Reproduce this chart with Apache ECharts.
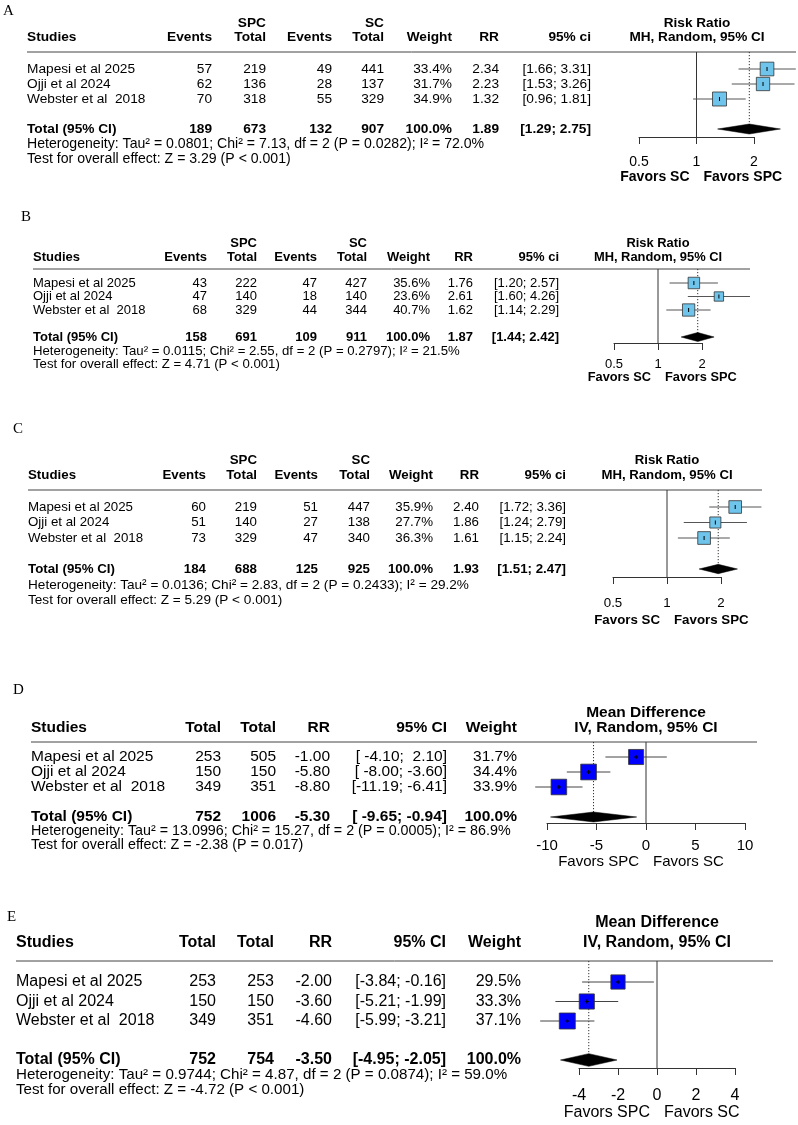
<!DOCTYPE html>
<html><head><meta charset="utf-8">
<script src="https://cdn.jsdelivr.net/npm/echarts@6/dist/echarts.min.js"></script>
<style>html,body{margin:0;padding:0;background:#fff}#c{width:798px;height:1125px}</style>
</head><body><div id="c"></div>
<script>
const FONT = "'Liberation Sans', Arial, Helvetica, sans-serif";
const SERIF = "'Liberation Serif', 'Times New Roman', serif";

const studies = ['Mapesi et al 2025', 'Ojji et al 2024', 'Webster et al  2018'];

// ---- Panel A (Risk Ratio) ----
const aSpcEvents = [57, 62, 70];
const aSpcTotal = [219, 136, 318];
const aScEvents = [49, 28, 55];
const aScTotal = [441, 137, 329];
const aWeight = [33.4, 31.7, 34.9];
const aRR = [2.34, 2.23, 1.32];
const aLow = [1.66, 1.53, 0.96];
const aHigh = [3.31, 3.26, 1.81];
const aPooled = [1.89, 1.29, 2.75];
const aTotals = [189, 673, 132, 907];
const aHet = ['0.0801', '7.13', '2', '0.0282', '72.0%'];
const aTest = ['3.29', '< 0.001'];
const aTicks = [0.5, 1, 2];

// ---- Panel B ----
const bSpcEvents = [43, 47, 68];
const bSpcTotal = [222, 140, 329];
const bScEvents = [47, 18, 44];
const bScTotal = [427, 140, 344];
const bWeight = [35.6, 23.6, 40.7];
const bRR = [1.76, 2.61, 1.62];
const bLow = [1.20, 1.60, 1.14];
const bHigh = [2.57, 4.26, 2.29];
const bPooled = [1.87, 1.44, 2.42];
const bTotals = [158, 691, 109, 911];
const bHet = ['0.0115', '2.55', '2', '0.2797', '21.5%'];
const bTest = ['4.71', '< 0.001'];
const bTicks = [0.5, 1, 2];

// ---- Panel C ----
const cSpcEvents = [60, 51, 73];
const cSpcTotal = [219, 140, 329];
const cScEvents = [51, 27, 47];
const cScTotal = [447, 138, 340];
const cWeight = [35.9, 27.7, 36.3];
const cRR = [2.40, 1.86, 1.61];
const cLow = [1.72, 1.24, 1.15];
const cHigh = [3.36, 2.79, 2.24];
const cPooled = [1.93, 1.51, 2.47];
const cTotals = [184, 688, 125, 925];
const cHet = ['0.0136', '2.83', '2', '0.2433', '29.2%'];
const cTest = ['5.29', '< 0.001'];
const cTicks = [0.5, 1, 2];

// ---- Panel D (Mean Difference) ----
const dTotal1 = [253, 150, 349];
const dTotal2 = [505, 150, 351];
const dMD = [-1.00, -5.80, -8.80];
const dLow = [-4.10, -8.00, -11.19];
const dHigh = [2.10, -3.60, -6.41];
const dWeight = [31.7, 34.4, 33.9];
const dPooled = [-5.30, -9.65, -0.94];
const dTotals = [752, 1006];
const dHet = ['13.0996', '15.27', '2', '0.0005', '86.9%'];
const dTest = ['-2.38', '= 0.017'];
const dTicks = [-10, -5, 0, 5, 10];

// ---- Panel E ----
const eTotal1 = [253, 150, 349];
const eTotal2 = [253, 150, 351];
const eMD = [-2.00, -3.60, -4.60];
const eLow = [-3.84, -5.21, -5.99];
const eHigh = [-0.16, -1.99, -3.21];
const eWeight = [29.5, 33.3, 37.1];
const ePooled = [-3.50, -4.95, -2.05];
const eTotals = [752, 754];
const eHet = ['0.9744', '4.87', '2', '0.0874', '59.0%'];
const eTest = ['-4.72', '< 0.001'];
const eTicks = [-4, -2, 0, 2, 4];

// ---- layout (pixels) ----
const panels = [
  { kind: 'rr', letter: 'A', letterPos: [3, 11], fs: 13.7, hetFs: 14.1, hdrFs: 13.6, tickFs: 14, favFs: 14, favBold: true,
    left: 27, ruleEnd: 796, supY: 23, hdrY: 37, ruleY: 52, row1: 69, row3: 99, hetY: 144, testY: 159,
    cols: [212, 266, 332, 384, 452, 499, 591], x0: 639, x1: 754, axisY: 137, labelMargin: 18, favY: 177,
    fHdrX: 697, sqMax: 14, diaH: 10,
    ev1: aSpcEvents, n1: aSpcTotal, ev2: aScEvents, n2: aScTotal, w: aWeight, est: aRR, lo: aLow, hi: aHigh,
    pooled: aPooled, totals: aTotals, het: aHet, test: aTest, ticks: aTicks },
  { kind: 'rr', letter: 'B', letterPos: [21, 217], fs: 13, hetFs: 13.2, hdrFs: 12.9, tickFs: 13, favFs: 12.8, favBold: true,
    left: 33, ruleEnd: 750, supY: 243, hdrY: 257, ruleY: 269, row1: 283, row3: 310, hetY: 351, testY: 364,
    cols: [207, 257, 317, 367, 430, 473, 559], x0: 614, x1: 702, axisY: 343, labelMargin: 14.5, favY: 377,
    fHdrX: 658, sqMax: 12.3, diaH: 9,
    ev1: bSpcEvents, n1: bSpcTotal, ev2: bScEvents, n2: bScTotal, w: bWeight, est: bRR, lo: bLow, hi: bHigh,
    pooled: bPooled, totals: bTotals, het: bHet, test: bTest, ticks: bTicks },
  { kind: 'rr', letter: 'C', letterPos: [13, 429], fs: 13.3, hetFs: 13.6, hdrFs: 13.2, tickFs: 13.3, favFs: 13.3, favBold: true,
    left: 28, ruleEnd: 762, supY: 460, hdrY: 475, ruleY: 490, row1: 507, row3: 538, hetY: 585, testY: 600,
    cols: [206, 257, 318, 370, 433, 479, 566], x0: 613, x1: 721, axisY: 577, labelMargin: 20, favY: 620,
    fHdrX: 667, sqMax: 12.7, diaH: 9.3,
    ev1: cSpcEvents, n1: cSpcTotal, ev2: cScEvents, n2: cScTotal, w: cWeight, est: cRR, lo: cLow, hi: cHigh,
    pooled: cPooled, totals: cTotals, het: cHet, test: cTest, ticks: cTicks },
  { kind: 'md', letter: 'D', letterPos: [13, 690], fs: 15.5, hetFs: 14.3, hdrFs: 15.5, tickFs: 15, favFs: 15, favBold: false,
    left: 31, ruleEnd: 757, supY: 713, hdrY: 728, ruleY: 742, row1: 757, row3: 787, hetY: 831, testY: 845,
    cols: [221, 276, 330, 447, 517], x0: 547, x1: 745, axisY: 823, labelMargin: 15.5, favY: 862,
    fHdrX: 646, sqMax: 15.7, diaH: 10,
    t1: dTotal1, t2: dTotal2, w: dWeight, est: dMD, lo: dLow, hi: dHigh,
    pooled: dPooled, totals: dTotals, het: dHet, test: dTest, ticks: dTicks },
  { kind: 'md', letter: 'E', letterPos: [7, 917], fs: 16, hetFs: 15.15, hdrFs: 16, tickFs: 16, favFs: 16, favBold: false,
    left: 16, ruleEnd: 773, supY: 923, hdrY: 943, ruleY: 961, row1: 982, row3: 1021, hetY: 1075, testY: 1090,
    cols: [216, 274, 332, 446, 521], x0: 579, x1: 735, axisY: 1068, labelMargin: 20, favY: 1113,
    fHdrX: 657, sqMax: 16, diaH: 12.7,
    t1: eTotal1, t2: eTotal2, w: eWeight, est: eMD, lo: eLow, hi: eHigh,
    pooled: ePooled, totals: eTotals, het: eHet, test: eTest, ticks: eTicks }
];

const TOTAL_ROW = 5;
const graphics = [];
function T(x, y, text, fs, opts) {
  opts = opts || {};
  graphics.push({ type: 'text', x: x, y: y, silent: true, z: 10,
    style: { text: text, fontSize: fs, fontFamily: opts.family || FONT, fontWeight: opts.bold ? 'bold' : 'normal',
      fill: '#000', align: opts.align || 'right', verticalAlign: 'middle' } });
}
function L(x1, y1, x2, y2) {
  graphics.push({ type: 'line', silent: true, shape: { x1, y1, x2, y2 }, style: { stroke: '#444', lineWidth: 1 } });
}
function ciStrings(lo, hi, plo, phi) {
  const los = lo.concat([plo]).map(v => v.toFixed(2));
  const his = hi.concat([phi]).map(v => v.toFixed(2));
  const wl = Math.max(...los.map(s => s.length)), wh = Math.max(...his.map(s => s.length));
  return los.map((s, i) => '[' + s.padStart(wl, ' ') + '; ' + his[i].padStart(wh, ' ') + ']');
}

const grids = [], xAxes = [], yAxes = [], series = [];

panels.forEach((P, i) => {
  const b = (P.row3 - P.row1) / 2, a = P.row1 - b;
  const rowY = k => a + b * k;
  const fs = P.fs;
  T(P.letterPos[0], P.letterPos[1], P.letter, 15, { family: SERIF, align: 'left' });
  L(P.left, P.ruleY, P.ruleEnd, P.ruleY);
  const ci = ciStrings(P.lo, P.hi, P.pooled[1], P.pooled[2]);
  if (P.kind === 'rr') {
    T(P.cols[1], P.supY, 'SPC', fs, { bold: true });
    T(P.cols[3], P.supY, 'SC', fs, { bold: true });
    T(P.left, P.hdrY, 'Studies', fs, { bold: true, align: 'left' });
    ['Events', 'Total', 'Events', 'Total', 'Weight', 'RR', '95% ci'].forEach((h, j) => T(P.cols[j], P.hdrY, h, fs, { bold: true }));
    T(P.fHdrX, P.supY, 'Risk Ratio', P.hdrFs, { bold: true, align: 'center' });
    T(P.fHdrX, P.hdrY, 'MH, Random, 95% CI', P.hdrFs, { bold: true, align: 'center' });
    studies.forEach((s, k) => {
      const y = rowY(k + 1);
      T(P.left, y, s, fs, { align: 'left' });
      const vals = [P.ev1[k], P.n1[k], P.ev2[k], P.n2[k], P.w[k].toFixed(1) + '%', P.est[k].toFixed(2), ci[k]];
      vals.forEach((v, j) => T(P.cols[j], y, String(v), fs));
    });
    const yt = rowY(TOTAL_ROW);
    T(P.left, yt, 'Total (95% CI)', fs, { bold: true, align: 'left' });
    const tv = [P.totals[0], P.totals[1], P.totals[2], P.totals[3], '100.0%', P.pooled[0].toFixed(2), ci[3]];
    tv.forEach((v, j) => T(P.cols[j], yt, String(v), fs, { bold: true }));
  } else {
    T(P.left, P.hdrY, 'Studies', fs, { bold: true, align: 'left' });
    ['Total', 'Total', 'RR', '95% CI', 'Weight'].forEach((h, j) => T(P.cols[j], P.hdrY, h, fs, { bold: true }));
    T(P.fHdrX, P.supY, 'Mean Difference', P.hdrFs, { bold: true, align: 'center' });
    T(P.fHdrX, P.hdrY, 'IV, Random, 95% CI', P.hdrFs, { bold: true, align: 'center' });
    studies.forEach((s, k) => {
      const y = rowY(k + 1);
      T(P.left, y, s, fs, { align: 'left' });
      const vals = [P.t1[k], P.t2[k], P.est[k].toFixed(2), ci[k], P.w[k].toFixed(1) + '%'];
      vals.forEach((v, j) => T(P.cols[j], y, String(v), fs));
    });
    const yt = rowY(TOTAL_ROW);
    T(P.left, yt, 'Total (95% CI)', fs, { bold: true, align: 'left' });
    const tv = [P.totals[0], P.totals[1], P.pooled[0].toFixed(2), ci[3], '100.0%'];
    tv.forEach((v, j) => T(P.cols[j], yt, String(v), fs, { bold: true }));
  }
  const h = P.het;
  T(P.left, P.hetY, 'Heterogeneity: Tau\u00b2 = ' + h[0] + '; Chi\u00b2 = ' + h[1] + ', df = ' + h[2] + ' (P = ' + h[3] + '); I\u00b2 = ' + h[4], P.hetFs, { align: 'left' });
  T(P.left, P.testY, 'Test for overall effect: Z = ' + P.test[0] + ' (P ' + P.test[1] + ')', P.hetFs, { align: 'left' });

  const isLog = P.kind === 'rr';
  const ref = isLog ? 1 : 0;
  const refX = (P.x0 + P.x1) / 2;
  const fav = isLog ? ['Favors SC', 'Favors SPC'] : ['Favors SPC', 'Favors SC'];
  T(refX - 7, P.favY, fav[0], P.favFs, { bold: P.favBold, align: 'right' });
  T(refX + 7, P.favY, fav[1], P.favFs, { bold: P.favBold, align: 'left' });

  const ymin = (P.ruleY - a) / b, ymax = (P.axisY - a) / b;
  grids.push({ left: P.x0, top: P.ruleY, width: P.x1 - P.x0, height: P.axisY - P.ruleY, containLabel: false });
  const ax = {
    gridIndex: i, min: P.ticks[0], max: P.ticks[P.ticks.length - 1],
    axisLine: { show: true, onZero: false, lineStyle: { color: '#333', width: 1 } },
    axisTick: { show: true, inside: false, length: 7, lineStyle: { color: '#333', width: 1 }, customValues: P.ticks },
    axisLabel: { show: true, fontSize: P.tickFs, fontFamily: FONT, color: '#000', margin: P.labelMargin,
      customValues: P.ticks, showMinLabel: true, showMaxLabel: true, formatter: v => String(+(+v).toFixed(3)) },
    splitLine: { show: false }
  };
  if (isLog) { ax.type = 'log'; ax.logBase = 2; } else { ax.type = 'value'; ax.interval = P.ticks[1] - P.ticks[0]; }
  xAxes.push(ax);
  yAxes.push({ gridIndex: i, type: 'value', inverse: true, min: ymin, max: ymax, show: false });

  series.push({ type: 'line', xAxisIndex: i, yAxisIndex: i, data: [[ref, ymin], [ref, ymax]], symbol: 'none',
    silent: true, lineStyle: { color: '#333', width: 1 }, z: 1 });
  series.push({ type: 'line', xAxisIndex: i, yAxisIndex: i, data: [[P.pooled[0], ymin], [P.pooled[0], TOTAL_ROW]], symbol: 'none',
    silent: true, lineStyle: { color: '#333', width: 1, type: [1.2, 1.8] }, z: 1 });
  const maxW = Math.max(...P.w);
  const fill = isLog ? '#6EC4EA' : '#0000FF';
  const ciCol = isLog ? '#555' : '#444';
  series.push({ type: 'custom', xAxisIndex: i, yAxisIndex: i, clip: false, silent: true, z: 3,
    encode: { x: [0, 1, 2], y: 3 },
    data: P.est.map((e, k) => [e, P.lo[k], P.hi[k], k + 1, P.w[k]]),
    renderItem: (params, api) => {
      const row = api.value(3);
      const pE = api.coord([api.value(0), row]);
      const pL = api.coord([api.value(1), row]);
      const pH = api.coord([api.value(2), row]);
      const s = P.sqMax * Math.sqrt(api.value(4) / maxW);
      const ch = [
        { type: 'line', shape: { x1: pL[0], y1: pE[1], x2: pH[0], y2: pE[1] }, style: { stroke: ciCol, lineWidth: 1 } },
        { type: 'rect', shape: { x: pE[0] - s / 2, y: pE[1] - s / 2, width: s, height: s }, style: { fill: fill, stroke: '#333', lineWidth: 0.8 } },
        { type: 'line', shape: { x1: pE[0], y1: pE[1] - 2, x2: pE[0], y2: pE[1] + 2 }, style: { stroke: '#000', lineWidth: 1 } }
      ];
      if (!isLog) ch.push({ type: 'line', shape: { x1: pE[0] - 2, y1: pE[1], x2: pE[0] + 2, y2: pE[1] }, style: { stroke: '#000', lineWidth: 1 } });
      return { type: 'group', children: ch };
    }
  });
  series.push({ type: 'custom', xAxisIndex: i, yAxisIndex: i, clip: false, silent: true, z: 4,
    encode: { x: [0, 1, 2], y: 3 },
    data: [[P.pooled[0], P.pooled[1], P.pooled[2], TOTAL_ROW]],
    renderItem: (params, api) => {
      const row = api.value(3);
      const pE = api.coord([api.value(0), row]);
      const pL = api.coord([api.value(1), row]);
      const pH = api.coord([api.value(2), row]);
      const hh = P.diaH / 2;
      return { type: 'polygon', shape: { points: [[pL[0], pE[1]], [pE[0], pE[1] - hh], [pH[0], pE[1]], [pE[0], pE[1] + hh]] },
        style: { fill: '#000', stroke: '#000', lineWidth: 0.5 } };
    }
  });
});

const chart = echarts.init(document.getElementById('c'), null, { renderer: 'canvas', width: 798, height: 1125 });
chart.setOption({
  animation: false,
  backgroundColor: '#fff',
  grid: grids, xAxis: xAxes, yAxis: yAxes, series: series,
  graphic: { elements: graphics }
});
</script></body></html>
